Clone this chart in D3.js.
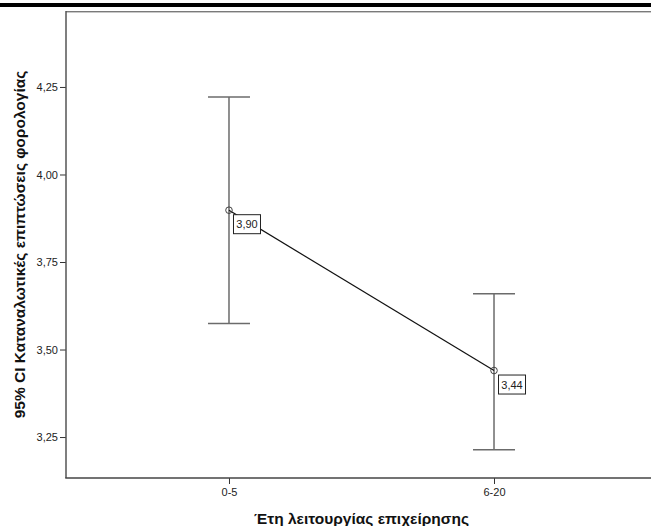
<!DOCTYPE html>
<html>
<head>
<meta charset="utf-8">
<script src="https://cdn.jsdelivr.net/npm/d3@7/dist/d3.min.js"></script>
<style>
  html, body { margin: 0; padding: 0; background: #fff; }
  svg { display: block; font-family: "Liberation Sans", Arial, sans-serif; }
</style>
</head>
<body>
<svg id="chart" width="651" height="526"></svg>
<script>
// ---- data ----
const categories = ["0-5", "6-20"];
const means = [3.898, 3.44];
const meanLabels = ["3,90", "3,44"];
const ciLower = [3.574, 3.214];
const ciUpper = [4.221, 3.659];
const yTicks = [3.25, 3.50, 3.75, 4.00, 4.25];
const yTitle = "95% CI Καταναλωτικές επιπτώσεις φορολογίας";
const xTitle = "Έτη λειτουργίας επιχείρησης";

const svg = d3.select("#chart");
const W = 651, H = 526;
const plot = { left: 66, right: 657, top: 11, bottom: 478 };

const x = d3.scalePoint().domain(categories).range([plot.left, plot.right]).padding(0.615);
const y = d3.scaleLinear().domain([3.133, 4.467]).range([plot.bottom, plot.top]);

// top black bar
svg.append("rect").attr("x", 0).attr("y", 3).attr("width", W).attr("height", 4).attr("fill", "#000");

// frame top (double gray line)
svg.append("line").attr("x1", plot.left).attr("x2", W).attr("y1", 11.5).attr("y2", 11.5)
  .attr("stroke", "#7a7a7a").attr("stroke-width", 1);
svg.append("line").attr("x1", plot.left).attr("x2", W).attr("y1", 12.5).attr("y2", 12.5)
  .attr("stroke", "#c8c8c8").attr("stroke-width", 1);

// y axis
const yAxis = d3.axisLeft(y).tickValues(yTicks).tickSize(6).tickPadding(2)
  .tickFormat(d => d3.format(".2f")(d).replace(".", ","));
const gy = svg.append("g").attr("transform", `translate(${plot.left},0)`).call(yAxis);
gy.select(".domain").remove();
gy.selectAll(".tick line").attr("stroke", "#333").attr("stroke-width", 1);
gy.selectAll(".tick text").attr("fill", "#222").style("font-size", "11px");
svg.append("line").attr("x1", plot.left).attr("x2", plot.left).attr("y1", plot.top).attr("y2", plot.bottom)
  .attr("stroke", "#555").attr("stroke-width", 1.5);

// x axis
const xAxis = d3.axisBottom(x).tickSize(6).tickPadding(4);
const gx = svg.append("g").attr("transform", `translate(0,${plot.bottom})`).call(xAxis);
gx.select(".domain").remove();
gx.selectAll(".tick line").attr("stroke", "#333").attr("stroke-width", 1);
gx.selectAll(".tick text").attr("fill", "#222").style("font-size", "11px");
svg.append("line").attr("x1", plot.left - 0.75).attr("x2", W).attr("y1", plot.bottom).attr("y2", plot.bottom)
  .attr("stroke", "#444").attr("stroke-width", 1.5);

// error bars
const eb = svg.append("g");
categories.forEach((c, i) => {
  const cx = x(c);
  eb.append("line").attr("x1", cx).attr("x2", cx).attr("y1", y(ciUpper[i])).attr("y2", y(ciLower[i]))
    .attr("stroke", "#6b6b6b").attr("stroke-width", 1.5);
  [ciUpper[i], ciLower[i]].forEach(v => {
    eb.append("line").attr("x1", cx - 21).attr("x2", cx + 21).attr("y1", y(v)).attr("y2", y(v))
      .attr("stroke", "#6b6b6b").attr("stroke-width", 1.5);
  });
});

// mean line
const line = d3.line().x((d, i) => x(categories[i])).y(d => y(d));
svg.append("path").datum(means).attr("d", line).attr("fill", "none")
  .attr("stroke", "#111").attr("stroke-width", 1.2);

// points
svg.selectAll("circle.pt").data(means).enter().append("circle")
  .attr("class", "pt")
  .attr("cx", (d, i) => x(categories[i])).attr("cy", d => y(d)).attr("r", 3.3)
  .attr("fill", "none").attr("stroke", "#444").attr("stroke-width", 1);

// labels
means.forEach((m, i) => {
  const bx = x(categories[i]) + 4, by = y(m) + 4;
  svg.append("rect").attr("x", bx + 0.5).attr("y", by + 0.5).attr("width", 27).attr("height", 19)
    .attr("fill", "#fff").attr("stroke", "#222").attr("stroke-width", 1);
  svg.append("text").attr("x", bx + 14).attr("y", by + 14).attr("text-anchor", "middle")
    .style("font-size", "11px").attr("fill", "#222").text(meanLabels[i]);
});

// axis titles
svg.append("text").attr("x", (plot.left + plot.right) / 2).attr("y", 524)
  .attr("text-anchor", "middle").style("font-size", "15.5px").style("font-weight", "bold")
  .attr("fill", "#111").text(xTitle);
svg.append("text").attr("transform", `translate(25,${(plot.top + plot.bottom) / 2}) rotate(-90)`)
  .attr("text-anchor", "middle").style("font-size", "15.5px").style("font-weight", "bold")
  .attr("fill", "#111").text(yTitle);
</script>
</body>
</html>
